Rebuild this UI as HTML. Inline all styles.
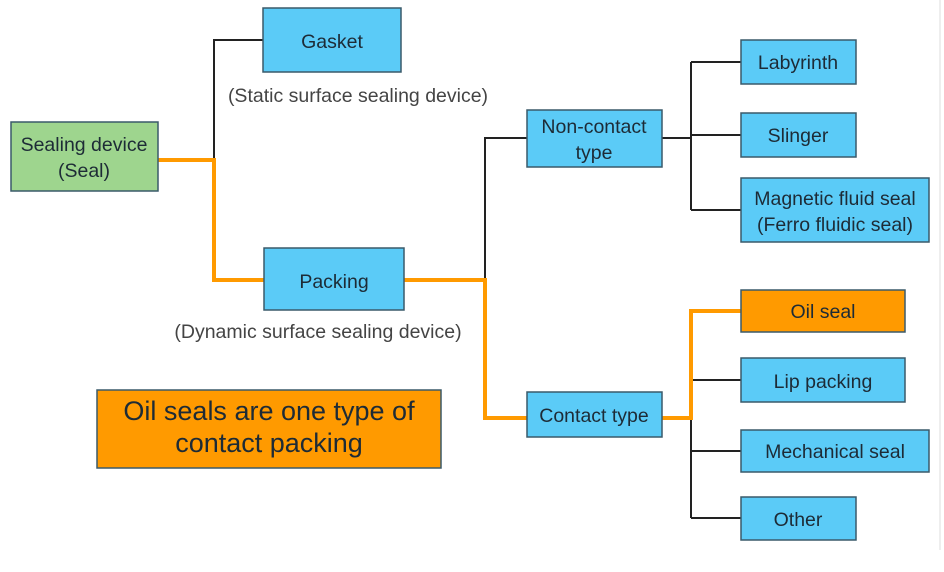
<!DOCTYPE html>
<html><head><style>
body{margin:0;background:#fff;}
svg{display:block;font-family:"Liberation Sans",sans-serif;}
</style></head><body>
<svg width="944" height="572" viewBox="0 0 944 572">
<rect width="944" height="572" fill="#fff"/>
<line x1="940" y1="0" x2="940" y2="550" stroke="#eee" stroke-width="2"/>
<g fill="none" stroke-linejoin="miter">
<path d="M214 160 V40 H263" stroke="#222" stroke-width="2"/>
<path d="M158 160 H214 V280 H264" stroke="#ff9a00" stroke-width="4"/>
<path d="M485 280 V138 H527" stroke="#222" stroke-width="2"/>
<path d="M404 280 H485 V418 H527" stroke="#ff9a00" stroke-width="4"/>
<path d="M662 138 H691 M691 62 V210 M691 62 H741 M691 135 H741 M691 210 H741" stroke="#222" stroke-width="2"/>
<path d="M691 418 V518 M691 380 H741 M691 451 H741 M691 518 H741" stroke="#222" stroke-width="2"/>
<path d="M662 418 H691 V311 H741" stroke="#ff9a00" stroke-width="4"/>
</g>
<g stroke="#3a5a6a" stroke-width="1.5">
<rect x="11" y="122" width="147" height="69" fill="#9ed58e"/>
<rect x="263" y="8" width="138" height="64" fill="#5bcbf7"/>
<rect x="264" y="248" width="140" height="62" fill="#5bcbf7"/>
<rect x="527" y="110" width="135" height="57" fill="#5bcbf7"/>
<rect x="527" y="392" width="135" height="45" fill="#5bcbf7"/>
<rect x="741" y="40" width="115" height="44" fill="#5bcbf7"/>
<rect x="741" y="113" width="115" height="44" fill="#5bcbf7"/>
<rect x="741" y="178" width="188" height="64" fill="#5bcbf7"/>
<rect x="741" y="290" width="164" height="42" fill="#ff9a00"/>
<rect x="741" y="358" width="164" height="44" fill="#5bcbf7"/>
<rect x="741" y="430" width="188" height="42" fill="#5bcbf7"/>
<rect x="741" y="497" width="115" height="43" fill="#5bcbf7"/>
<rect x="97" y="390" width="344" height="78" fill="#ff9a00"/>
</g>
<g fill="#1d2b36" font-size="19.5" text-anchor="middle">
<text x="84" y="151">Sealing device</text>
<text x="84" y="177">(Seal)</text>
<text x="332" y="48">Gasket</text>
<text x="334" y="288">Packing</text>
<text x="594" y="133">Non-contact</text>
<text x="594" y="159">type</text>
<text x="594" y="422">Contact type</text>
<text x="798" y="69">Labyrinth</text>
<text x="798" y="142">Slinger</text>
<text x="835" y="205">Magnetic fluid seal</text>
<text x="835" y="231">(Ferro fluidic seal)</text>
<text x="823" y="318">Oil seal</text>
<text x="823" y="388">Lip packing</text>
<text x="835" y="458">Mechanical seal</text>
<text x="798" y="526">Other</text>
<text x="358" y="102" fill="#444">(Static surface sealing device)</text>
<text x="318" y="338" fill="#444">(Dynamic surface sealing device)</text>
<text x="269" y="420" font-size="27">Oil seals are one type of</text>
<text x="269" y="452" font-size="27">contact packing</text>
</g>
</svg>
</body></html>
